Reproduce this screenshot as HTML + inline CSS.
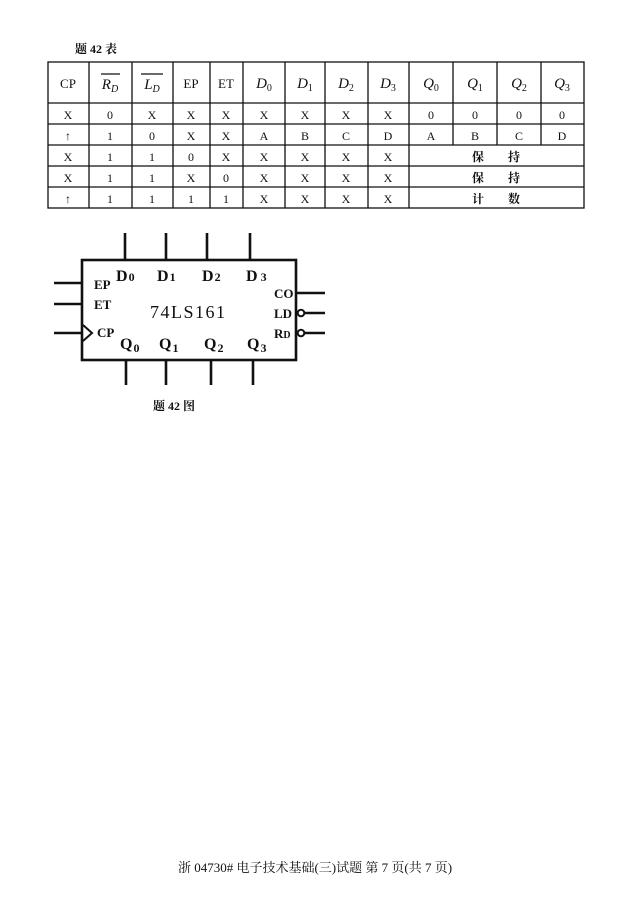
<!DOCTYPE html>
<html><head><meta charset="utf-8"><style>
html,body{margin:0;padding:0;background:#fff;}
svg{display:block;}
text{font-family:"Liberation Serif","Noto Serif CJK SC",serif;fill:#111;}
</style></head><body>
<svg width="630" height="905" viewBox="0 0 630 905" xmlns="http://www.w3.org/2000/svg">
<text x="75" y="53" font-size="12" font-weight="bold">题 42 表</text>
<g stroke="#111" stroke-width="1.3" fill="none">
<rect x="48" y="62" width="536" height="146"/>
<line x1="48" y1="103" x2="584" y2="103"/>
<line x1="48" y1="124" x2="584" y2="124"/>
<line x1="48" y1="145" x2="584" y2="145"/>
<line x1="48" y1="166" x2="584" y2="166"/>
<line x1="48" y1="187" x2="584" y2="187"/>
<line x1="89" y1="62" x2="89" y2="208"/>
<line x1="132" y1="62" x2="132" y2="208"/>
<line x1="173" y1="62" x2="173" y2="208"/>
<line x1="210" y1="62" x2="210" y2="208"/>
<line x1="243" y1="62" x2="243" y2="208"/>
<line x1="285" y1="62" x2="285" y2="208"/>
<line x1="325" y1="62" x2="325" y2="208"/>
<line x1="368" y1="62" x2="368" y2="208"/>
<line x1="409" y1="62" x2="409" y2="208"/>
<line x1="453" y1="62" x2="453" y2="145"/>
<line x1="497" y1="62" x2="497" y2="145"/>
<line x1="541" y1="62" x2="541" y2="145"/>
<line x1="101" y1="74" x2="120" y2="74"/>
<line x1="141" y1="74" x2="163" y2="74"/>
</g>
<g font-size="13" text-anchor="middle">
<text x="68" y="88">CP</text>
<text x="110" y="89" font-style="italic" font-size="15">R<tspan font-size="10" dy="3">D</tspan></text>
<text x="152" y="89" font-style="italic" font-size="15">L<tspan font-size="10" dy="3">D</tspan></text>
<text x="191" y="88">EP</text>
<text x="226" y="88">ET</text>
<text x="264" y="88" font-style="italic" font-size="15">D<tspan font-size="10" dy="3" font-style="normal">0</tspan></text>
<text x="305" y="88" font-style="italic" font-size="15">D<tspan font-size="10" dy="3" font-style="normal">1</tspan></text>
<text x="346" y="88" font-style="italic" font-size="15">D<tspan font-size="10" dy="3" font-style="normal">2</tspan></text>
<text x="388" y="88" font-style="italic" font-size="15">D<tspan font-size="10" dy="3" font-style="normal">3</tspan></text>
<text x="431" y="88" font-style="italic" font-size="15">Q<tspan font-size="10" dy="3" font-style="normal">0</tspan></text>
<text x="475" y="88" font-style="italic" font-size="15">Q<tspan font-size="10" dy="3" font-style="normal">1</tspan></text>
<text x="519" y="88" font-style="italic" font-size="15">Q<tspan font-size="10" dy="3" font-style="normal">2</tspan></text>
<text x="562" y="88" font-style="italic" font-size="15">Q<tspan font-size="10" dy="3" font-style="normal">3</tspan></text>
</g>
<g font-size="12" text-anchor="middle">
<text x="68" y="119">X</text><text x="110" y="119">0</text><text x="152" y="119">X</text><text x="191" y="119">X</text><text x="226" y="119">X</text><text x="264" y="119">X</text><text x="305" y="119">X</text><text x="346" y="119">X</text><text x="388" y="119">X</text><text x="431" y="119">0</text><text x="475" y="119">0</text><text x="519" y="119">0</text><text x="562" y="119">0</text>
<text x="68" y="140">↑</text><text x="110" y="140">1</text><text x="152" y="140">0</text><text x="191" y="140">X</text><text x="226" y="140">X</text><text x="264" y="140">A</text><text x="305" y="140">B</text><text x="346" y="140">C</text><text x="388" y="140">D</text><text x="431" y="140">A</text><text x="475" y="140">B</text><text x="519" y="140">C</text><text x="562" y="140">D</text>
<text x="68" y="161">X</text><text x="110" y="161">1</text><text x="152" y="161">1</text><text x="191" y="161">0</text><text x="226" y="161">X</text><text x="264" y="161">X</text><text x="305" y="161">X</text><text x="346" y="161">X</text><text x="388" y="161">X</text><text x="496" y="161" font-weight="bold">保　　持</text>
<text x="68" y="182">X</text><text x="110" y="182">1</text><text x="152" y="182">1</text><text x="191" y="182">X</text><text x="226" y="182">0</text><text x="264" y="182">X</text><text x="305" y="182">X</text><text x="346" y="182">X</text><text x="388" y="182">X</text><text x="496" y="182" font-weight="bold">保　　持</text>
<text x="68" y="203">↑</text><text x="110" y="203">1</text><text x="152" y="203">1</text><text x="191" y="203">1</text><text x="226" y="203">1</text><text x="264" y="203">X</text><text x="305" y="203">X</text><text x="346" y="203">X</text><text x="388" y="203">X</text><text x="496" y="203" font-weight="bold">计　　数</text>
</g>
<g stroke="#111" stroke-width="2.6" fill="none">
<rect x="82" y="260" width="214" height="100"/>
<line x1="125" y1="233" x2="125" y2="260"/><line x1="166" y1="233" x2="166" y2="260"/><line x1="207" y1="233" x2="207" y2="260"/><line x1="250" y1="233" x2="250" y2="260"/>
<line x1="126" y1="360" x2="126" y2="385"/><line x1="166" y1="360" x2="166" y2="385"/><line x1="211" y1="360" x2="211" y2="385"/><line x1="253" y1="360" x2="253" y2="385"/>
<line x1="54" y1="283" x2="82" y2="283"/><line x1="54" y1="304" x2="82" y2="304"/><line x1="54" y1="333" x2="82" y2="333"/>
<polyline points="83,325 92,333 83,341" stroke-width="2"/>
<line x1="296" y1="293" x2="325" y2="293"/>
<circle cx="301" cy="313" r="3.3" stroke-width="2"/><line x1="304" y1="313" x2="325" y2="313"/>
<circle cx="301" cy="333" r="3.3" stroke-width="2"/><line x1="304" y1="333" x2="325" y2="333"/>
</g>
<g font-size="16" font-weight="bold">
<text x="116" y="281">D<tspan font-size="12" dx="1">0</tspan></text>
<text x="157" y="281">D<tspan font-size="12" dx="1">1</tspan></text>
<text x="202" y="281">D<tspan font-size="12" dx="1">2</tspan></text>
<text x="246" y="281">D<tspan font-size="12" dx="3">3</tspan></text>
<text x="94" y="289" font-size="13">EP</text>
<text x="94" y="309" font-size="13">ET</text>
<text x="97" y="337" font-size="13">CP</text>
<text x="150" y="318" font-size="18" font-weight="normal" letter-spacing="1.5">74LS161</text>
<text x="120" y="349">Q<tspan font-size="12" dx="1" dy="3">0</tspan></text>
<text x="159" y="349">Q<tspan font-size="12" dx="1" dy="3">1</tspan></text>
<text x="204" y="349">Q<tspan font-size="12" dx="1" dy="3">2</tspan></text>
<text x="247" y="349">Q<tspan font-size="12" dx="1" dy="3">3</tspan></text>
<text x="274" y="298" font-size="13">CO</text>
<text x="274" y="318" font-size="13">LD</text>
<text x="274" y="338" font-size="13">R<tspan font-size="10">D</tspan></text>
</g>
<text x="153" y="410" font-size="12" font-weight="bold">题 42 图</text>
<text x="315" y="872" font-size="13" text-anchor="middle">浙 04730# 电子技术基础(三)试题 第 7 页(共 7 页)</text>
</svg>
</body></html>
